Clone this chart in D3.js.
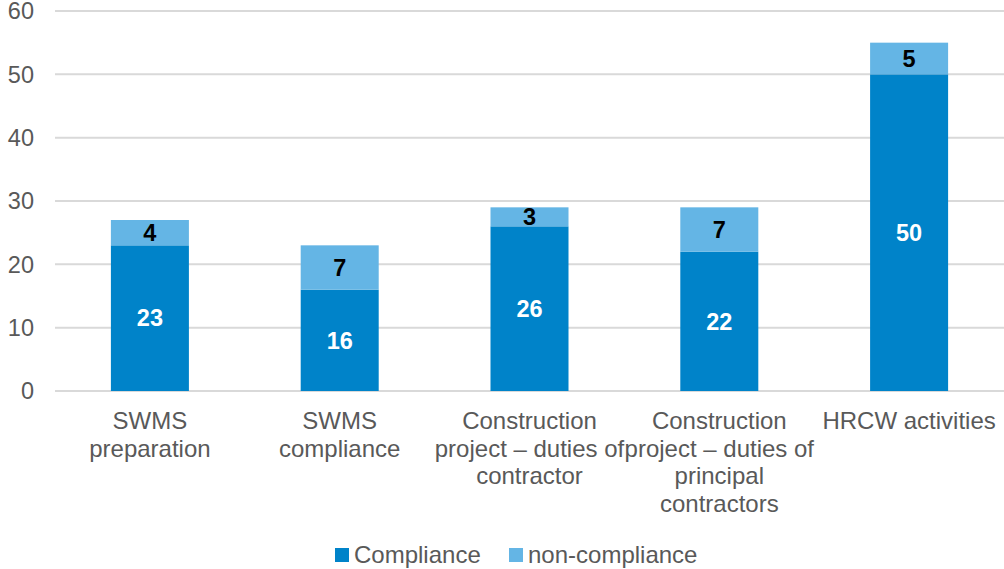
<!DOCTYPE html>
<html>
<head>
<meta charset="utf-8">
<script src="https://cdn.jsdelivr.net/npm/d3@7"></script>
<style>
  body { margin: 0; background: #fff; }
  text { font-family: "Liberation Sans", Arial, sans-serif; }
</style>
</head>
<body>
<div class="chart"></div>
<script>
// data
const categories = [
  ["SWMS", "preparation"],
  ["SWMS", "compliance"],
  ["Construction", "project \u2013 duties of", "contractor"],
  ["Construction", "project \u2013 duties of", "principal", "contractors"],
  ["HRCW activities"]
]
const compliance = [23, 16, 26, 22, 50]
const nonCompliance = [4, 7, 3, 7, 5]
const seriesNames = ["Compliance", "non-compliance"]
const yTicks = [0, 10, 20, 30, 40, 50, 60]

const colors = ["#0083C9", "#64B5E5"]

const w = 1004
const h = 569
const fs = 23.5   // ticks and data labels
const fsCat = 24  // category labels and legend

const svg = d3.select(".chart")
  .append("svg")
  .attr("width", w)
  .attr("height", h)

// inner padding = bar gap, outer half of it so steps are even
const x = d3.scaleBand()
  .domain(d3.range(categories.length))
  .range([55, 1004])
  .paddingInner(0.589)
  .paddingOuter(0.2945)

const y = d3.scaleLinear()
  .domain([0, 60])
  .range([391, 11])

// gridlines
svg.append("g")
  .selectAll("line")
  .data(yTicks)
  .enter()
  .append("line")
  .attr("x1", 55)
  .attr("x2", 1004)
  .attr("y1", d => y(d))
  .attr("y2", d => y(d))
  .attr("stroke", "#D9D9D9")
  .attr("stroke-width", 2)

// y tick labels
svg.append("g")
  .selectAll("text")
  .data(yTicks)
  .enter()
  .append("text")
  .attr("x", 34)
  .attr("y", d => y(d))
  .attr("dy", "0.36em")
  .attr("text-anchor", "end")
  .attr("font-size", fs)
  .attr("fill", "#595959")
  .text(d => d)

// stack
const rows = compliance.map((c, i) => ({ i: i, c: c, n: nonCompliance[i] }))
const stack = d3.stack().keys(["c", "n"])(rows)

const layers = svg.append("g")
  .selectAll("g")
  .data(stack)
  .enter()
  .append("g")
  .attr("fill", (d, i) => colors[i])

layers.selectAll("rect")
  .data(d => d)
  .enter()
  .append("rect")
  .attr("x", d => x(d.data.i))
  .attr("width", x.bandwidth())
  .attr("y", d => y(d[1]))
  .attr("height", d => y(d[0]) - y(d[1]))

// data labels
stack.forEach((layer, li) => {
  svg.append("g")
    .selectAll("text")
    .data(layer)
    .enter()
    .append("text")
    .attr("x", d => x(d.data.i) + x.bandwidth() / 2)
    .attr("y", d => (y(d[0]) + y(d[1])) / 2)
    .attr("dy", "0.35em")
    .attr("text-anchor", "middle")
    .attr("font-size", fs)
    .attr("font-weight", "bold")
    .attr("fill", li === 0 ? "#fff" : "#000")
    .text(d => d[1] - d[0])
})

// category labels
const catG = svg.append("g")
  .selectAll("text")
  .data(categories)
  .enter()
  .append("text")
  .attr("x", (d, i) => x(i) + x.bandwidth() / 2)
  .attr("y", 429)
  .attr("text-anchor", "middle")
  .attr("font-size", fsCat)
  .attr("fill", "#595959")

catG.selectAll("tspan")
  .data(d => d)
  .enter()
  .append("tspan")
  .attr("x", function () { return d3.select(this.parentNode).attr("x") })
  .attr("dy", (d, i) => i === 0 ? 0 : 27.5)
  .text(d => d)

// legend
const legendX = [335, 509]
const legend = svg.append("g")
  .selectAll("g")
  .data(seriesNames)
  .enter()
  .append("g")
  .attr("transform", (d, i) => "translate(" + legendX[i] + ",555)")

legend.append("rect")
  .attr("x", 0)
  .attr("y", -7)
  .attr("width", 14)
  .attr("height", 14)
  .attr("fill", (d, i) => colors[i])

legend.append("text")
  .attr("x", 19)
  .attr("y", 0)
  .attr("dy", "0.35em")
  .attr("font-size", fsCat)
  .attr("fill", "#595959")
  .text(d => d)
</script>
</body>
</html>
